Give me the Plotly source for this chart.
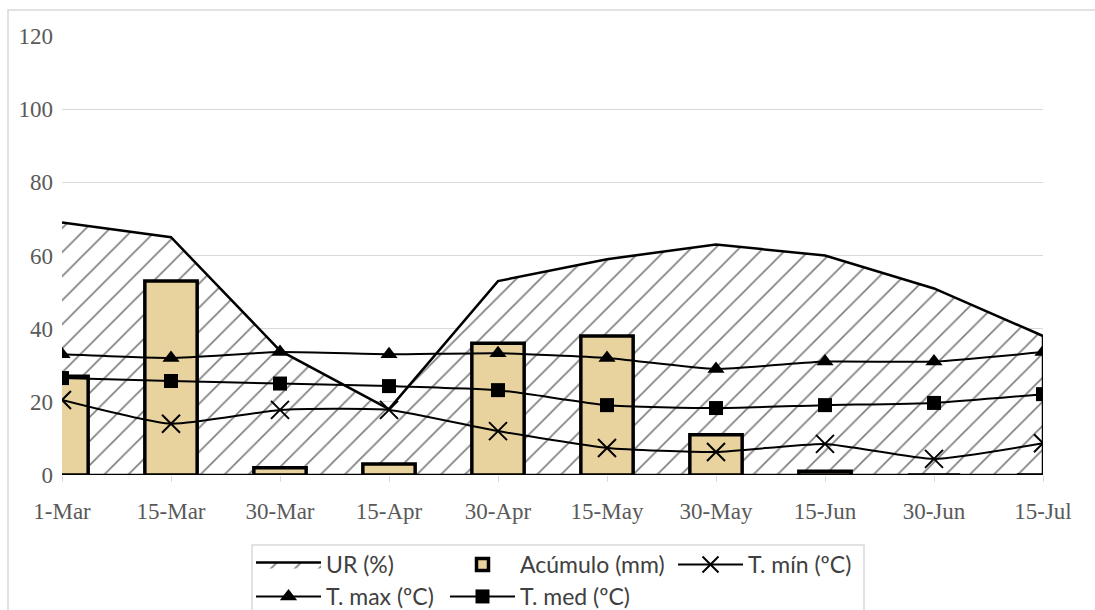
import plotly.graph_objects as go

# ---------------- data ----------------
fechas = ["1-Mar", "15-Mar", "30-Mar", "15-Apr", "30-Apr",
          "15-May", "30-May", "15-Jun", "30-Jun", "15-Jul"]
ur = [69, 65, 34, 18, 53, 59, 63, 60, 51, 38]
acumulo = [27, 53, 2, 3, 36, 38, 11, 1, 0, 0]
t_min = [20.5, 14, 17.8, 17.8, 12, 7.4, 6.3, 8.5, 4.4, 8.7]
t_max = [33, 32, 33.6, 33, 33.3, 32, 29, 31, 31, 33.6]
t_med = [26.5, 25.7, 25, 24.3, 23.2, 19.1, 18.3, 19.1, 19.7, 22.1]
y_ticks = [0, 20, 40, 60, 80, 100, 120]

# ---------------- geometry ----------------
W, H = 1095, 610
L, R, T, B = 62, 52, 36, 135
PW, PH = W - L - R, H - T - B


def px_x(x):
    return (x - L) / PW


def px_y(y):
    return (H - B - y) / PH


fig = go.Figure()

# UR area (closed polygon so the outline goes round the whole area)
fig.add_trace(go.Scatter(
    x=fechas + [fechas[-1], fechas[0]],
    y=ur + [0, 0],
    mode="lines", fill="toself", name="UR (%)",
    line=dict(color="black", width=2.5),
    fillcolor="white",
    fillpattern=dict(shape="/", fgcolor="black", bgcolor="white",
                     size=17, solidity=0.1),
    legend="legend", zorder=0, cliponaxis=False, hoverinfo="skip",
))

fig.add_trace(go.Bar(
    x=fechas, y=acumulo, name="Acúmulo (mm)",
    width=0.48,
    marker=dict(color="#E8D29E", line=dict(color="black", width=3.5)),
    legend="legend2", zorder=1,
))

fig.add_trace(go.Scatter(
    x=fechas, y=t_min, name="T. mín (ºC)", mode="lines+markers",
    line=dict(color="black", width=2, shape="spline", smoothing=0.5),
    marker=dict(symbol="x-thin", size=18, line=dict(color="black", width=2)),
    legend="legend3", zorder=2, cliponaxis=False,
))
fig.add_trace(go.Scatter(
    x=fechas, y=t_max, name="T. max (ºC)", mode="lines+markers",
    line=dict(color="black", width=2, shape="spline", smoothing=0.5),
    marker=dict(symbol="triangle-up", size=15, color="black"),
    legend="legend4", zorder=2, cliponaxis=False,
))
fig.add_trace(go.Scatter(
    x=fechas, y=t_med, name="T. med (ºC)", mode="lines+markers",
    line=dict(color="black", width=2, shape="spline", smoothing=0.5),
    marker=dict(symbol="square", size=14, color="black"),
    legend="legend5", zorder=2, cliponaxis=False,
))

tick_font = dict(family="Liberation Serif", size=23, color="#595959")
leg_font = dict(family="Lato", size=23, color="#404040")


def leg(xpx, ypx):
    return dict(orientation="h", xref="container", yref="container",
                x=xpx / W, y=1 - ypx / H, xanchor="left", yanchor="top",
                font=leg_font, itemwidth=65, bgcolor="rgba(0,0,0,0)",
                borderwidth=0)


fig.update_layout(
    width=W, height=H,
    margin=dict(l=L, r=R, t=T, b=B, autoexpand=False),
    paper_bgcolor="white", plot_bgcolor="white",
    showlegend=True,
    xaxis=dict(type="category", range=[0, len(fechas) - 1],
               showgrid=False, showline=False, zeroline=False,
               ticks="outside", ticklen=6, tickcolor="#D9D9D9",
               tickfont=tick_font, ticklabelstandoff=9),
    yaxis=dict(range=[0, 120], tickvals=y_ticks,
               showgrid=True, gridcolor="#D9D9D9", gridwidth=1,
               zeroline=False, showline=False, ticks="",
               tickfont=tick_font, ticklabelstandoff=8),
    legend=leg(251, 543),
    legend2=leg(445, 543),
    legend3=leg(673, 543),
    legend4=leg(251, 575),
    legend5=leg(445, 575),
    shapes=[
        dict(type="rect", xref="paper", yref="paper",
             x0=px_x(8), x1=px_x(1100), y0=px_y(620), y1=px_y(10),
             line=dict(color="#D9D9D9", width=1.5), layer="below"),
        dict(type="rect", xref="paper", yref="paper",
             x0=px_x(252), x1=px_x(864), y0=px_y(620), y1=px_y(545),
             line=dict(color="#D9D9D9", width=1.5), layer="below"),
    ],
)

fig.write_html("out.html")
